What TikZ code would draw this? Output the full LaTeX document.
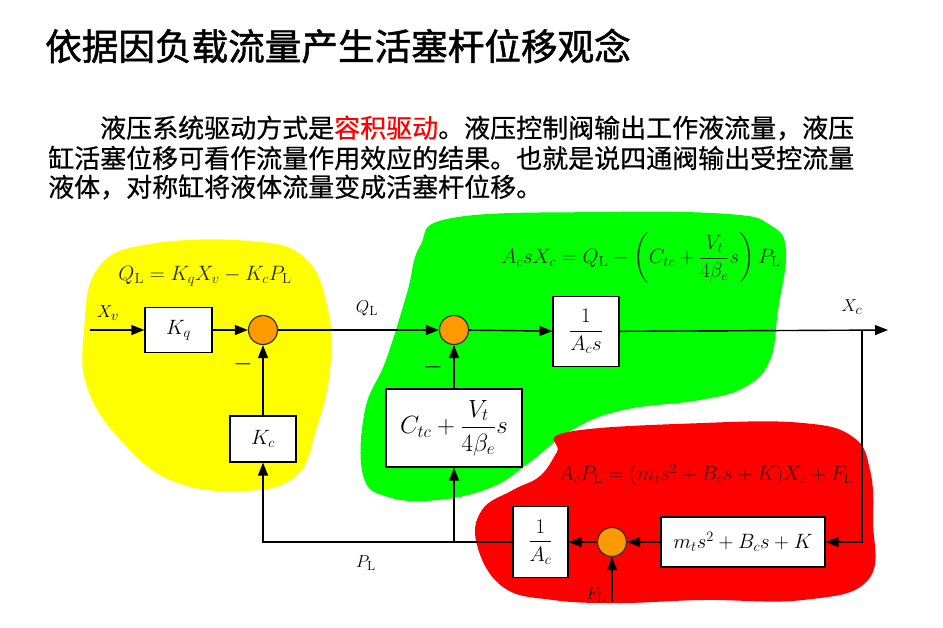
\documentclass[tikz,border=0pt]{standalone}
\usepackage{amsmath,amssymb}
\usepackage{xcolor}
\usepackage{fontspec}
\usepackage{tikz}
\usetikzlibrary{arrows.meta,positioning,calc}
\newfontfamily\cjk{Noto Sans CJK SC}[FakeBold=0.6]
\newfontfamily\cjkhead{Noto Sans CJK SC}[FakeBold=1.4]
\definecolor{blobY}{HTML}{FFFF00}
\definecolor{blobG}{HTML}{00FF00}
\definecolor{blobR}{HTML}{FF0000}
\definecolor{sumO}{HTML}{FF9900}
\definecolor{eqY}{HTML}{2A2A10}
\definecolor{eqG}{HTML}{0F3A0F}
\definecolor{eqR}{HTML}{4A0000}
\tikzset{
  blk/.style={draw, fill=white, line width=1.2pt, inner sep=0pt, font=\fontsize{21}{24}\selectfont},
  sumnode/.style={circle, draw=black!80, fill=sumO, line width=1.2pt, minimum size=29pt, inner sep=0pt},
  sig/.style={line width=1.4pt, -{Triangle[length=13pt,width=10pt]}},
  lbl/.style={font=\fontsize{19}{22}\selectfont},
  eqn/.style={font=\fontsize{21}{25}\selectfont},
  minus/.style={font=\fontsize{26}{26}\selectfont, inner sep=0pt},
  txt/.style={anchor=west, inner sep=0pt, font=\cjk\fontsize{26}{30}\selectfont}
}

\begin{document}
\begin{tikzpicture}[x=1pt, y=-1pt]
\useasboundingbox (0,0) rectangle (943,627);
% text
\node[anchor=west, inner sep=0pt, font=\cjkhead\fontsize{36.6}{40}\selectfont] (title) at (45,46) {依据因负载流量产生活塞杆位移观念};
\node[txt] (line1) at (100,128) {液压系统驱动方式是\textcolor{red}{容积驱动}。液压控制阀输出工作液流量，液压};
\node[txt] (line2) at (48,158) {缸活塞位移可看作流量作用效应的结果。也就是说四通阀输出受控流量};
\node[txt] (line3) at (48,187) {液体，对称缸将液体流量变成活塞杆位移。};
% coloured regions
\fill[blobY] plot[smooth cycle, tension=0.7] coordinates {(84,330) (98,268) (150,244) (250,241) (305,258) (328,310) (330,370) (316,430) (296,476) (245,491) (175,482) (125,445) (88,390)};
\fill[blobG] plot[smooth cycle, tension=0.7] coordinates {(452,218) (600,212) (728,214) (770,225) (786,250) (778,310) (770,360) (745,387) (700,400) (623,410) (572,430) (530,462) (492,487) (438,500) (388,497) (363,475) (365,410) (386,360) (407,293) (420,246)};
\fill[blobR] plot[smooth cycle, tension=0.7] coordinates {(568,432) (703,423) (803,423) (853,437) (870,470) (873,520) (868,580) (803,600) (703,600) (620,603) (553,600) (503,587) (477,545) (482,510) (513,490) (540,476) (557,452)};
% equations
\node[eqn, text=eqY] (eq1) at (205,276) {$Q_\mathrm{L}=K_qX_v-K_cP_\mathrm{L}$};
\node[eqn, text=eqG] (eq2) at (641,258) {$A_csX_c=Q_\mathrm{L}-\left(C_{tc}+\dfrac{V_t}{4\beta_e}s\right)P_\mathrm{L}$};
\node[eqn, text=eqR] (eq3) at (706,475) {$A_cP_\mathrm{L}=(m_ts^2+B_cs+K)X_c+F_\mathrm{L}$};
% blocks
\node[blk, minimum width=67pt, minimum height=45pt] (kq) at (178.5,330) {$K_q$};
\node[sumnode] (s1) at (263,330) {};
\node[sumnode] (s2) at (454,330) {};
\node[blk, minimum width=66pt, minimum height=70pt] (gs) at (586,331.5) {$\dfrac{1}{A_c s}$};
\node[blk, minimum width=66pt, minimum height=46pt] (kc) at (263,439) {$K_c$};
\node[blk, minimum width=136pt, minimum height=78pt, font=\fontsize{24}{28}\selectfont] (ct) at (454,428) {$C_{tc}+\dfrac{V_t}{4\beta_e}s$};
\node[blk, minimum width=164pt, minimum height=50pt] (mk) at (743,542) {$m_ts^2+B_cs+K$};
\node[sumnode] (s3) at (612,542) {};
\node[blk, minimum width=55pt, minimum height=71pt] (ac) at (540.5,542) {$\dfrac{1}{A_c}$};
\coordinate (xin) at (90,330);
\coordinate (xout) at (888,330);
\coordinate (br) at (862,330);
\coordinate (fin) at (612,602);
\coordinate (tap) at (ct.south |- ac.west);
% signals
\draw[sig] (xin) -- (kq);
\draw[sig] (kq) -- (s1);
\draw[sig] (s1) -- (s2);
\draw[sig] (s2) -- (gs);
\draw[sig] (gs) -- (xout);
\draw[sig] (br) |- (mk.east);
\draw[sig] (mk) -- (s3);
\draw[sig] (s3) -- (ac);
\draw[sig] (fin) -- (s3);
\draw[sig] (ac.west) -| (kc.south);
\draw[sig] (kc) -- (s1);
\draw[sig] (tap) -- (ct.south);
\draw[sig] (ct) -- (s2);
% labels
\node[lbl] (lxv) at (108,313) {$X_v$};
\node[lbl] (lql) at (367,308) {$Q_\mathrm{L}$};
\node[lbl] (lxc) at (852,307) {$X_c$};
\node[lbl] (lpl) at (366,563) {$P_\mathrm{L}$};
\node[lbl] (lfl) at (596,595) {$F_\mathrm{L}$};
\node[minus] (m1) at (243,364) {$-$};
\node[minus] (m2) at (433,367) {$-$};
\end{tikzpicture}
\end{document}
